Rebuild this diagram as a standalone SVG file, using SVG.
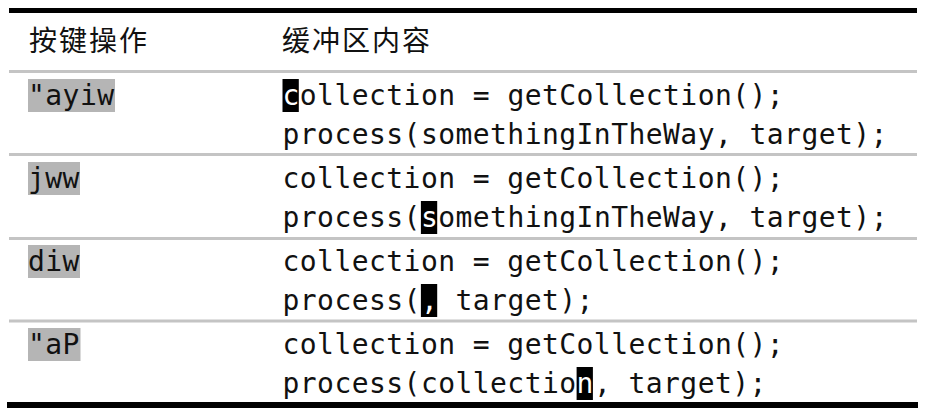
<svg xmlns="http://www.w3.org/2000/svg" width="927" height="410" viewBox="0 0 927 410">
<style>
  .bg { fill: #ffffff; }
  .rule-thick { fill: #000000; }
  .rule-thin { fill: #c4c4c4; }
  .hdr { font-family: "Noto Sans CJK SC", "Noto Sans CJK JP", sans-serif; font-size: 28px; letter-spacing: 2px; fill: #111111; }
  .code { font-family: "DejaVu Sans Mono", "Liberation Mono", monospace; font-size: 28px; letter-spacing: 0.44px; fill: #111111; white-space: pre; }
  .key-bg { fill: #b5b5b5; }
  .cursor { fill: #000000; }
  .cur { fill: #ffffff; }
</style>
<rect class="bg" x="0" y="0" width="927" height="410"/>

<g id="table-rules">
  <rect class="rule-thick" x="9" y="8" width="908" height="5"/>
  <rect class="rule-thin" x="9" y="70" width="908" height="3"/>
  <rect class="rule-thin" x="9" y="153" width="908" height="3"/>
  <rect class="rule-thin" x="9" y="237" width="908" height="3"/>
  <rect class="rule-thin" x="9" y="319.5" width="908" height="3"/>
  <rect class="rule-thick" x="7" y="402" width="911" height="6"/>
</g>

<g id="header">
  <text class="hdr" x="29" y="51">按键操作</text>
  <text class="hdr" x="282" y="51">缓冲区内容</text>
</g>

<g id="row1">
  <rect class="key-bg" x="28" y="79" width="87" height="33"/>
  <text class="code" x="28" y="105">"ayiw</text>
  <rect class="cursor" x="282.5" y="79" width="16.3" height="33"/>
  <text class="code" x="282.5" y="105"><tspan class="cur">c</tspan>ollection = getCollection();</text>
  <text class="code" x="282.5" y="144">process(somethingInTheWay, target);</text>
</g>

<g id="row2">
  <rect class="key-bg" x="28" y="162" width="52" height="33"/>
  <text class="code" x="28" y="188">jww</text>
  <text class="code" x="282.5" y="188">collection = getCollection();</text>
  <rect class="cursor" x="420.9" y="201" width="16.3" height="33"/>
  <text class="code" x="282.5" y="227">process(<tspan class="cur">s</tspan>omethingInTheWay, target);</text>
</g>

<g id="row3">
  <rect class="key-bg" x="28" y="245" width="52" height="33"/>
  <text class="code" x="28" y="271">diw</text>
  <text class="code" x="282.5" y="271">collection = getCollection();</text>
  <rect class="cursor" x="420.9" y="284" width="16.3" height="33"/>
  <text class="code" x="282.5" y="310">process(<tspan class="cur">,</tspan> target);</text>
</g>

<g id="row4">
  <rect class="key-bg" x="28" y="328" width="52.5" height="33"/>
  <text class="code" x="28" y="354">"aP</text>
  <text class="code" x="282.5" y="354">collection = getCollection();</text>
  <rect class="cursor" x="576.6" y="367" width="16.3" height="33"/>
  <text class="code" x="282.5" y="393">process(collectio<tspan class="cur">n</tspan>, target);</text>
</g>
</svg>
